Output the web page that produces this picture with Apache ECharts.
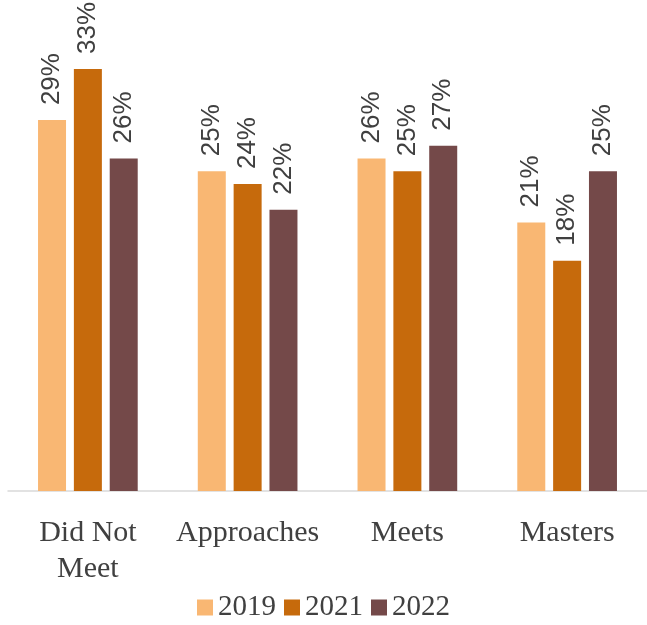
<!DOCTYPE html>
<html>
<head>
<meta charset="utf-8">
<script src="https://cdn.jsdelivr.net/npm/echarts@6/dist/echarts.min.js"></script>
<style>html,body{margin:0;padding:0;background:#fff}#c{width:647px;height:625px}</style>
</head>
<body>
<div id="c"></div>
<script>
const categories = ['Did Not\nMeet', 'Approaches', 'Meets', 'Masters'];
const seriesNames = ['2019', '2021', '2022'];
const values2019 = [29, 25, 26, 21];
const values2021 = [33, 24, 25, 18];
const values2022 = [26, 22, 27, 25];
const colors = ['#F9B773', '#C66A0C', '#744949'];

const allValues = [values2019, values2021, values2022];
const chart = echarts.init(document.getElementById('c'));
chart.setOption({
  animation: false,
  grid: { left: 8, right: -2, top: 5, bottom: 134 },
  legend: {
    bottom: -2,
    left: 'center',
    itemWidth: 16,
    itemHeight: 16,
    itemGap: 8,
    icon: 'rect',
    textStyle: { fontFamily: 'Liberation Serif', fontSize: 29, color: '#404040', padding: [0, 0, 0, 0] },
    data: seriesNames
  },
  xAxis: {
    type: 'category',
    data: categories,
    axisLine: { lineStyle: { color: '#d9d9d9', width: 1.5 } },
    axisTick: { show: false },
    axisLabel: { fontFamily: 'Liberation Serif', fontSize: 30, color: '#404040', lineHeight: 36, margin: 24, interval: 0 }
  },
  yAxis: {
    type: 'value', min: 0, max: 38,
    show: false, splitLine: { show: false }
  },
  series: seriesNames.map((n, i) => ({
    name: n,
    type: 'bar',
    data: allValues[i],
    barWidth: 28,
    barGap: '28%',
    itemStyle: { color: colors[i] },
    label: {
      show: true,
      position: 'top',
      distance: 15,
      rotate: 90,
      align: 'left',
      verticalAlign: 'middle',
      formatter: '{c}%',
      fontFamily: 'Liberation Sans',
      fontSize: 26,
      color: '#404040'
    }
  }))
});
</script>
</body>
</html>
